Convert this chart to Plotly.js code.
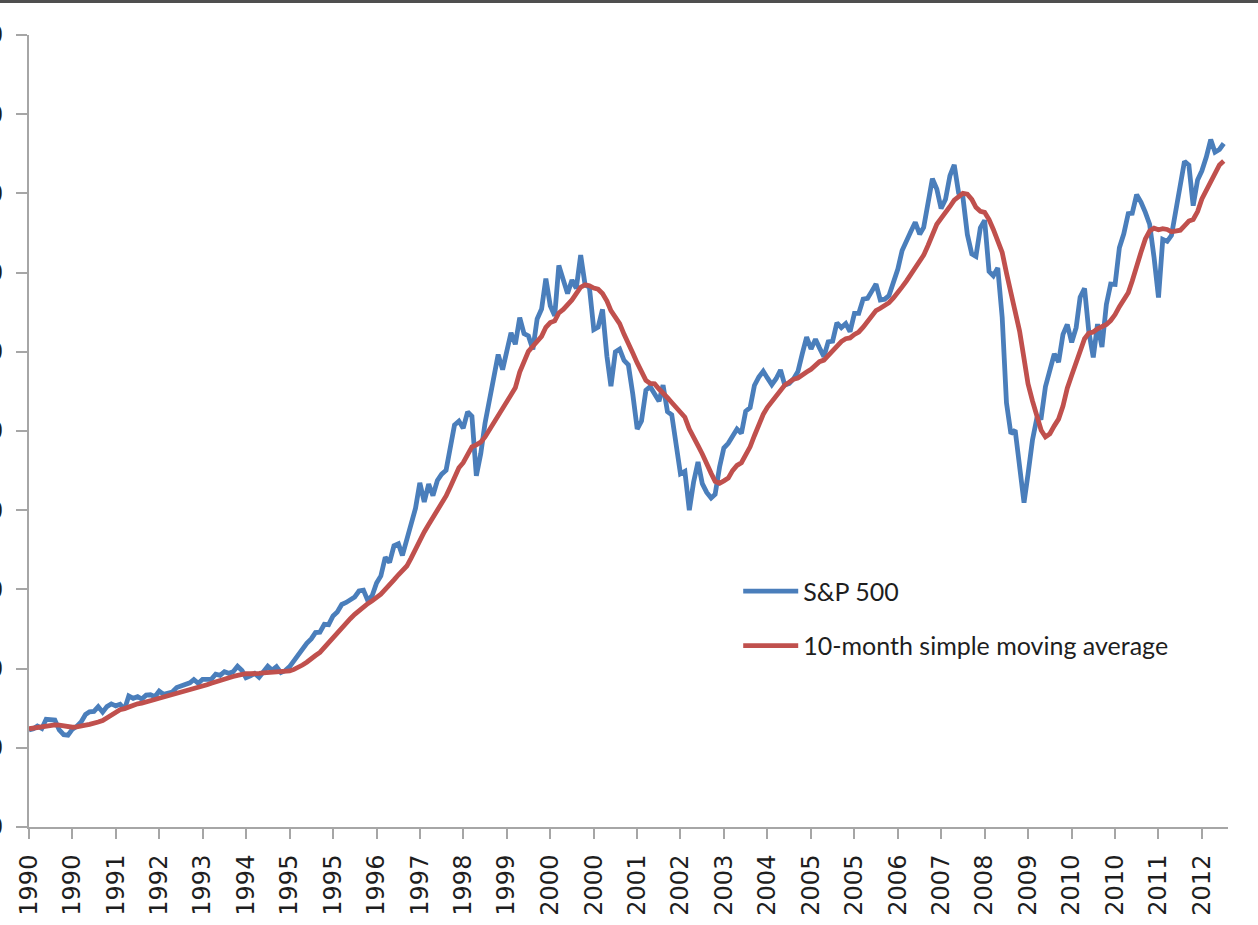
<!DOCTYPE html>
<html>
<head>
<meta charset="utf-8">
<script src="https://cdn.plot.ly/plotly-3.0.1.min.js"></script>
<style>
  html, body { margin: 0; padding: 0; background: #ffffff; }
  #chart { width: 1258px; height: 925px; }
</style>
</head>
<body>
<div id="chart"></div>
<script>
// Monthly series, January 1990 through December 2012
const startYear = 1990;

const sp500 = [
  245,248,255,249,272,271,270,245,233,232,247,254,
  265,284,291,292,304,290,304,311,306,310,297,331,
  325,329,323,333,334,329,343,335,339,341,352,356,
  360,364,372,363,373,374,373,386,383,392,388,392,
  406,395,377,382,388,378,391,406,396,405,390,395,
  405,421,433,447,464,475,491,492,512,511,533,543,
  562,567,573,581,596,598,572,584,616,634,681,668,
  710,715,686,727,771,805,869,821,866,837,875,891,
  901,966,1015,1025,1007,1048,1037,887,943,1020,1082,1144,
  1193,1155,1201,1248,1219,1286,1246,1240,1206,1283,1308,1385,
  1316,1291,1418,1376,1347,1381,1360,1444,1369,1363,1256,1262,
  1307,1188,1113,1200,1207,1178,1167,1093,1005,1025,1103,1112,
  1096,1075,1116,1049,1041,967,892,898,800,871,922,867,
  845,831,840,909,957,969,986,1005,994,1050,1059,1115,
  1136,1151,1134,1117,1132,1154,1116,1120,1132,1150,1196,1237,
  1207,1232,1210,1188,1225,1227,1273,1261,1271,1251,1297,1297,
  1333,1335,1352,1371,1331,1333,1342,1373,1409,1456,1483,1504,
  1527,1497,1514,1583,1637,1611,1562,1585,1645,1672,1601,1590,
  1496,1447,1441,1513,1532,1403,1392,1412,1287,1071,993,1002,
  918,819,891,977,1031,1033,1112,1152,1195,1174,1244,1269,
  1224,1261,1338,1360,1251,1186,1270,1212,1320,1371,1370,1463,
  1498,1549,1550,1597,1578,1552,1522,1438,1337,1484,1479,1494,
  1562,1628,1681,1671,1569,1634,1657,1692,1736,1704,1711,1726
];

const sma10 = [
  248,250,252,254,256,257,258,257,255,252,252,253,
  254,257,259,261,265,269,276,284,290,296,299,304,
  307,311,313,317,320,322,325,328,332,333,336,339,
  342,345,349,353,356,359,363,367,370,374,377,380,
  383,386,387,387,389,388,389,390,391,392,391,391,
  394,398,402,409,416,423,433,441,454,465,478,490,
  503,515,526,537,547,558,564,571,579,588,600,610,
  624,637,646,659,679,701,727,745,764,781,797,815,
  836,860,885,907,920,943,960,965,972,985,1003,1021,
  1039,1052,1071,1091,1109,1149,1179,1201,1214,1228,1239,1262,
  1274,1278,1298,1307,1317,1331,1347,1363,1369,1367,1361,1358,
  1347,1328,1304,1286,1271,1244,1224,1197,1172,1148,1128,1120,
  1119,1106,1097,1084,1072,1059,1048,1035,1005,981,963,942,
  915,893,873,868,874,881,900,913,920,939,960,988,
  1018,1042,1060,1075,1089,1104,1116,1123,1131,1134,1140,1149,
  1156,1168,1175,1179,1190,1200,1215,1226,1233,1235,1244,1250,
  1262,1277,1290,1304,1310,1317,1324,1336,1348,1364,1379,1395,
  1413,1426,1444,1469,1498,1522,1537,1550,1567,1583,1591,1600,
  1598,1585,1565,1555,1552,1534,1509,1483,1451,1399,1349,1305,
  1252,1183,1119,1076,1040,1002,985,993,1013,1030,1063,1108,
  1141,1170,1200,1233,1247,1250,1258,1262,1269,1279,1294,1314,
  1330,1349,1379,1420,1451,1485,1505,1512,1508,1511,1509,1503,
  1504,1507,1518,1530,1534,1554,1586,1607,1632,1653,1672,1682
];

const seriesNames = ['S&P 500', '10-month simple moving average'];

const tickDates = [
  '1990-01-01','1990-11-01','1991-09-01','1992-07-01','1993-05-01','1994-03-01',
  '1995-01-01','1995-11-01','1996-09-01','1997-07-01','1998-05-01','1999-03-01',
  '2000-01-01','2000-11-01','2001-09-01','2002-07-01','2003-05-01','2004-03-01',
  '2005-01-01','2005-11-01','2006-09-01','2007-07-01','2008-05-01','2009-03-01',
  '2010-01-01','2010-11-01','2011-09-01','2012-07-01'
];
const tickLabels = [
  '1990','1990','1991','1992','1993','1994',
  '1995','1995','1996','1997','1998','1999',
  '2000','2000','2001','2002','2003','2004',
  '2005','2005','2006','2007','2008','2009',
  '2010','2010','2011','2012'
];

const yTicks = [0,200,400,600,800,1000,1200,1400,1600,1800,2000];

// month dates for the series
const months = [];
for (let i = 0; i < sp500.length; i++) {
  const y = startYear + Math.floor(i / 12);
  const m = (i % 12) + 1;
  months.push(y + '-' + (m < 10 ? '0' + m : m) + '-01');
}

const axisGray = '#a6a6a6';
const textColor = '#1e1e1e';

const traces = [
  {
    x: months, y: sp500, name: seriesNames[0], type: 'scatter', mode: 'lines',
    line: {color: '#4a7ebb', width: 4.8}, legendgroup: 'a'
  },
  {
    x: months, y: sma10, name: seriesNames[1], type: 'scatter', mode: 'lines',
    line: {color: '#c0504d', width: 4.8}, legendgroup: 'b'
  }
];

const layout = {
  width: 1258, height: 925,
  margin: {l: 29, r: 30, t: 35, b: 98},
  paper_bgcolor: '#ffffff', plot_bgcolor: '#ffffff',
  showlegend: true,
  legend: {
    x: 0.5915, y: 0.3265, xanchor: 'left', yanchor: 'top',
    bgcolor: 'rgba(0,0,0,0)', borderwidth: 0,
    itemwidth: 55,
    font: {family: 'Lato, "Open Sans", sans-serif', size: 25, color: textColor},
    tracegroupgap: 19
  },
  xaxis: {
    type: 'date',
    range: ['1990-01-01', '2012-12-31'],
    tickmode: 'array', tickvals: tickDates, ticktext: tickLabels,
    tickangle: -90,
    ticks: 'outside', ticklen: 10, tickwidth: 2, tickcolor: axisGray,
    showline: true, linecolor: axisGray, linewidth: 2,
    showgrid: false, zeroline: false,
    ticklabelstandoff: 6,
    tickfont: {family: '"DejaVu Sans", sans-serif', size: 24, color: textColor},
    automargin: false
  },
  yaxis: {
    range: [0, 2000],
    tickmode: 'array', tickvals: yTicks,
    ticks: 'outside', ticklen: 11, tickwidth: 2, tickcolor: axisGray,
    showline: true, linecolor: axisGray, linewidth: 2,
    showgrid: false, zeroline: false,
    ticklabelstandoff: 8,
    tickfont: {family: '"DejaVu Sans", sans-serif', size: 24, color: textColor},
    automargin: false
  },
  shapes: [
    {type: 'rect', xref: 'paper', yref: 'paper',
     x0: -29/1199, x1: 1 + 30/1199, y0: 1 + 32/792, y1: 1 + 35/792,
     fillcolor: '#4f4f4f', line: {width: 0}}
  ]
};

Plotly.newPlot('chart', traces, layout, {staticPlot: true, displayModeBar: false});
</script>
</body>
</html>
